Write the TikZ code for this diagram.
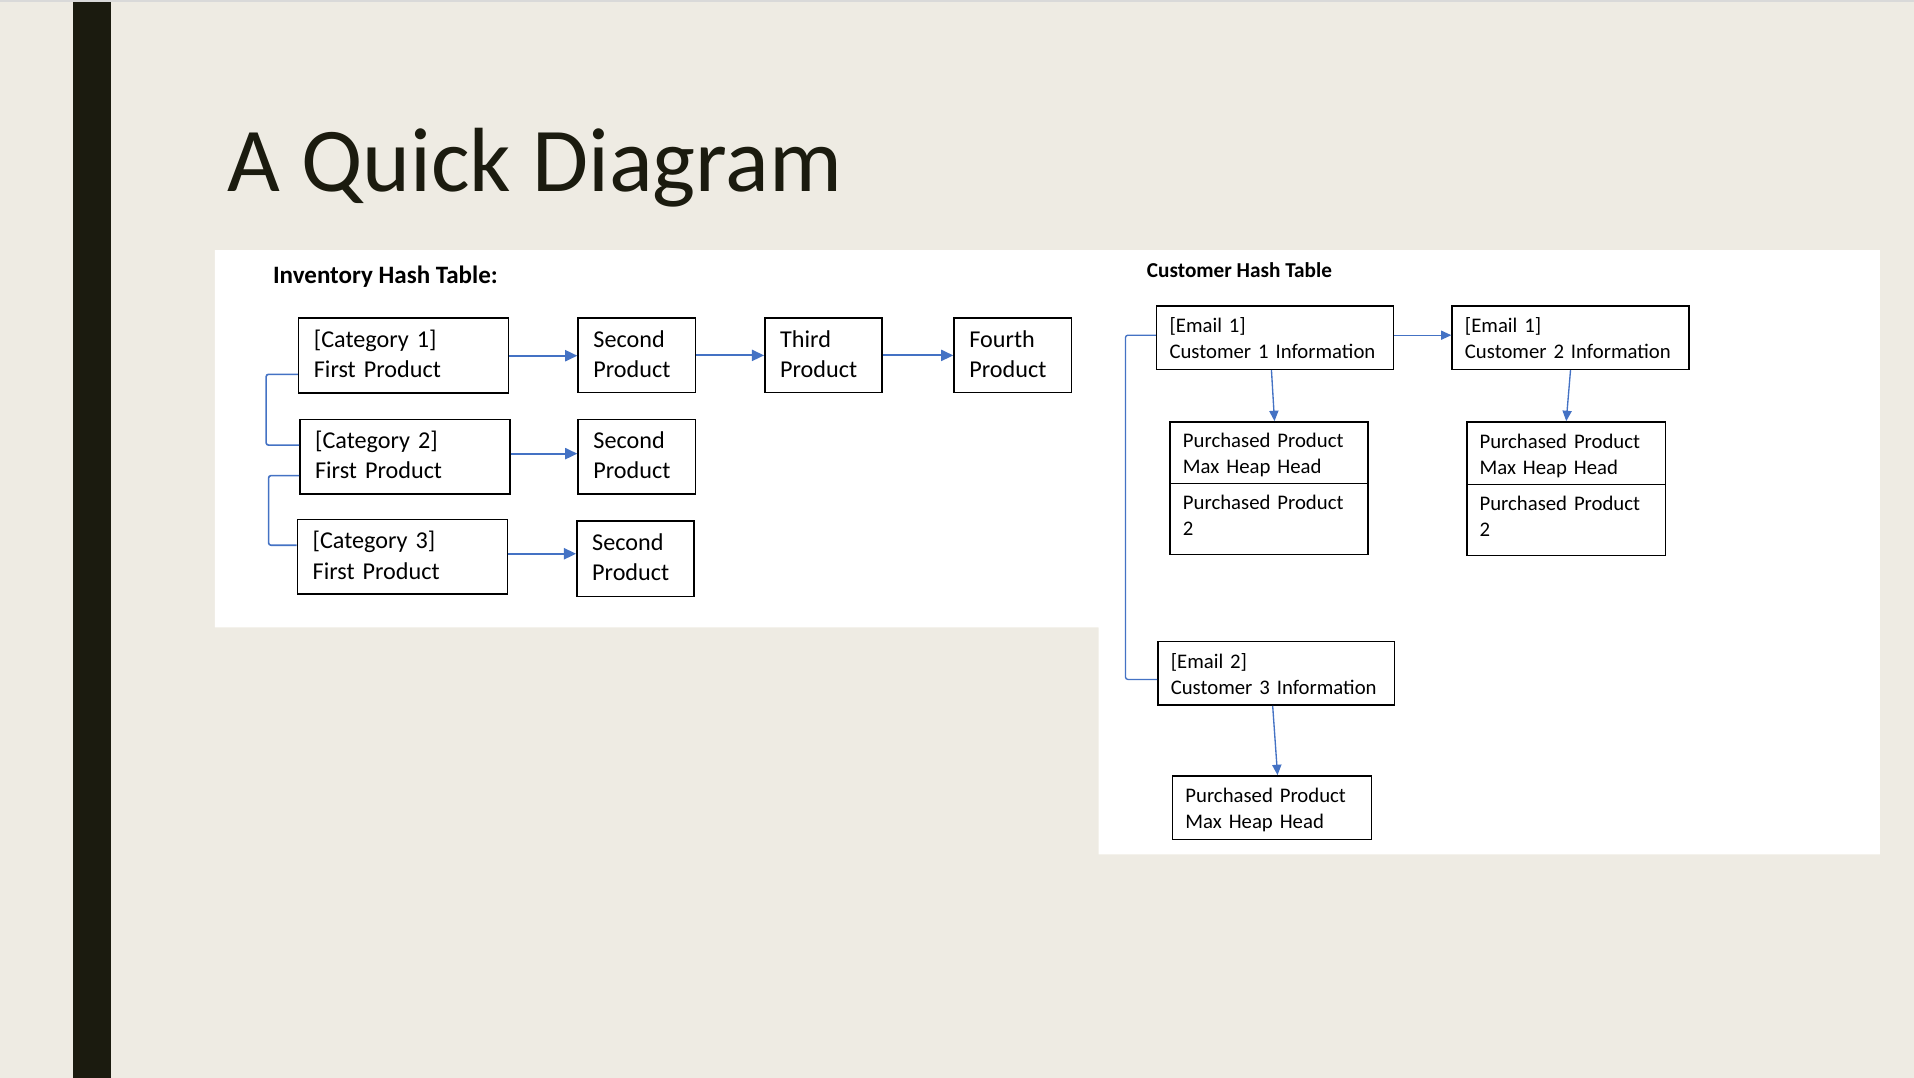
\documentclass[tikz,border=0pt]{standalone}
\usepackage{fontspec}
\setmainfont{Carlito}
\usetikzlibrary{arrows.meta,calc}
\definecolor{bgc}{HTML}{EEEBE3}
\definecolor{barc}{HTML}{1B1B0F}
\definecolor{linkc}{HTML}{4472C4}
\definecolor{topc}{HTML}{D9D9D9}
\newcommand\itop{\vrule height 16pt depth 0pt width 0pt}
\newcommand\ibot{\vrule height 0pt depth 4.5pt width 0pt}
\newcommand\ctop{\vrule height 16.5pt depth 0pt width 0pt}
\newcommand\cbot{\vrule height 0pt depth 3.5pt width 0pt}
\newcommand\cbotdeep{\vrule height 0pt depth 10.5pt width 0pt}
\begin{document}
\begin{tikzpicture}[x=1pt,y=-1pt,
  box/.style n args={4}{draw=black, line width=1.3pt, fill=white, rectangle,
    anchor=north west, inner ysep=0pt, inner xsep=#3, minimum width=#1,
    minimum height=#2, text width=#4, align=left},
  ibox/.style 2 args={box={#1}{#2}{12.5pt}{#1-25pt}, font=\fontsize{19.8}{25}\selectfont},
  cbox/.style 2 args={box={#1}{#2}{10.5pt}{#1-21pt}, font=\fontsize{17}{21.3}\selectfont, line width=1.2pt},
  invarr/.style={draw=linkc, line width=1.8pt, -{Triangle[length=10pt,width=9pt]}},
  custarr/.style={draw=linkc, line width=1.1pt, -{Triangle[length=8.5pt,width=7.5pt]}},
  brk/.style={draw=linkc, line width=1.3pt, rounded corners=2pt},
  heading/.style={anchor=base west, inner sep=0pt, font=\bfseries\fontsize{#1}{#1}\selectfont}
]
\useasboundingbox (0,0) rectangle (1568,883);
% background
\fill[bgc] (0,0) rectangle (1568,883);
\fill[topc] (0,0) rectangle (1568,1.8);
\fill[barc] (60,1.8) rectangle (91,883);
\fill[white] (176,205) -- (1540,205) -- (1540,700) -- (900,700) -- (900,514) -- (176,514) -- cycle;
% title
\node[anchor=base west, inner sep=0pt, font=\fontsize{74.7}{80}\selectfont, text=barc] (title) at (186.5,156.5) {A Quick Diagram};
% headings
\node[heading=20.5] (invh) at (223.5,232) {Inventory Hash Table:};
\node[heading=17.4] (custh) at (939.4,227) {Customer Hash Table};
% inventory boxes
\node[ibox={172pt}{61.5pt}] (c1) at (244,260) {\itop[Category 1]\\First Product\ibot};
\node[ibox={96pt}{61pt}] (s1) at (473,260) {\itop Second\\Product\ibot};
\node[ibox={96pt}{61pt}] (t1) at (626,260) {\itop Third\\Product\ibot};
\node[ibox={96pt}{61pt}] (f1) at (781,260) {\itop Fourth\\Product\ibot};
\node[ibox={172pt}{61pt}] (c2) at (245,343) {\itop[Category 2]\\First Product\ibot};
\node[ibox={96pt}{61pt}] (s2) at (473,343) {\itop Second\\Product\ibot};
\node[ibox={172pt}{61pt}] (c3) at (243,425) {\itop[Category 3]\\First Product\ibot};
\node[ibox={96pt}{62pt}] (s3) at (472,426) {\itop Second\\Product\ibot};
% inventory arrows
\draw[invarr] (c1.east) -- (c1.east -| s1.west);
\draw[invarr] (s1.east) -- (s1.east -| t1.west);
\draw[invarr] (t1.east) -- (t1.east -| f1.west);
\draw[invarr] ([yshift=2.5pt]c2.east) -- ([yshift=2.5pt]c2.east -| s2.west);
\draw[invarr] ([yshift=2.5pt]c3.east) -- ([yshift=2.5pt]c3.east -| s3.west);
\draw[brk] ([yshift=-15.25pt]c1.west) -- ++(-26,0) |- ([yshift=9.5pt]c2.west);
\draw[brk] ([yshift=-15.5pt]c2.west) -- ++(-25,0) |- ([yshift=9.5pt]c3.west);
% customer boxes
\node[cbox={194pt}{52pt}] (e1) at (947,250) {\ctop[Email 1]\\Customer 1 Information\cbot};
\node[cbox={194pt}{52pt}] (e2) at (1189,250) {\ctop[Email 1]\\Customer 2 Information\cbot};
\node[cbox={162pt}{50.5pt}] (h1a) at (958,345) {\ctop Purchased Product\\Max Heap Head\cbot};
\node[cbox={162pt}{58pt}] (h1b) at (958,395.5) {\ctop Purchased Product\\2\cbotdeep};
\node[cbox={163pt}{51.5pt}] (h2a) at (1201,345) {\ctop Purchased Product\\Max Heap Head\cbot};
\node[cbox={163pt}{58pt}] (h2b) at (1201,396.5) {\ctop Purchased Product\\2\cbotdeep};
\node[cbox={194pt}{52pt}] (e3) at (948,525) {\ctop[Email 2]\\Customer 3 Information\cbot};
\node[cbox={163pt}{52pt}] (h3) at (960,635) {\ctop Purchased Product\\Max Heap Head\cbot};
% customer connectors
\draw[custarr] ([yshift=2pt]e1.east) -- ([yshift=2pt]e1.east -| e2.west);
\draw[custarr] ([xshift=-3pt]e1.south) -- ([xshift=4.5pt]h1a.north);
\draw[custarr] (e2.south) -- (h2a.north);
\draw[custarr] ([xshift=-3pt]e3.south) -- ([xshift=4.5pt]h3.north);
\draw[brk, line width=1.1pt] ([yshift=2pt]e1.west) -- ++(-25,0) |- ([yshift=-5pt]e3.west);
\end{tikzpicture}
\end{document}
